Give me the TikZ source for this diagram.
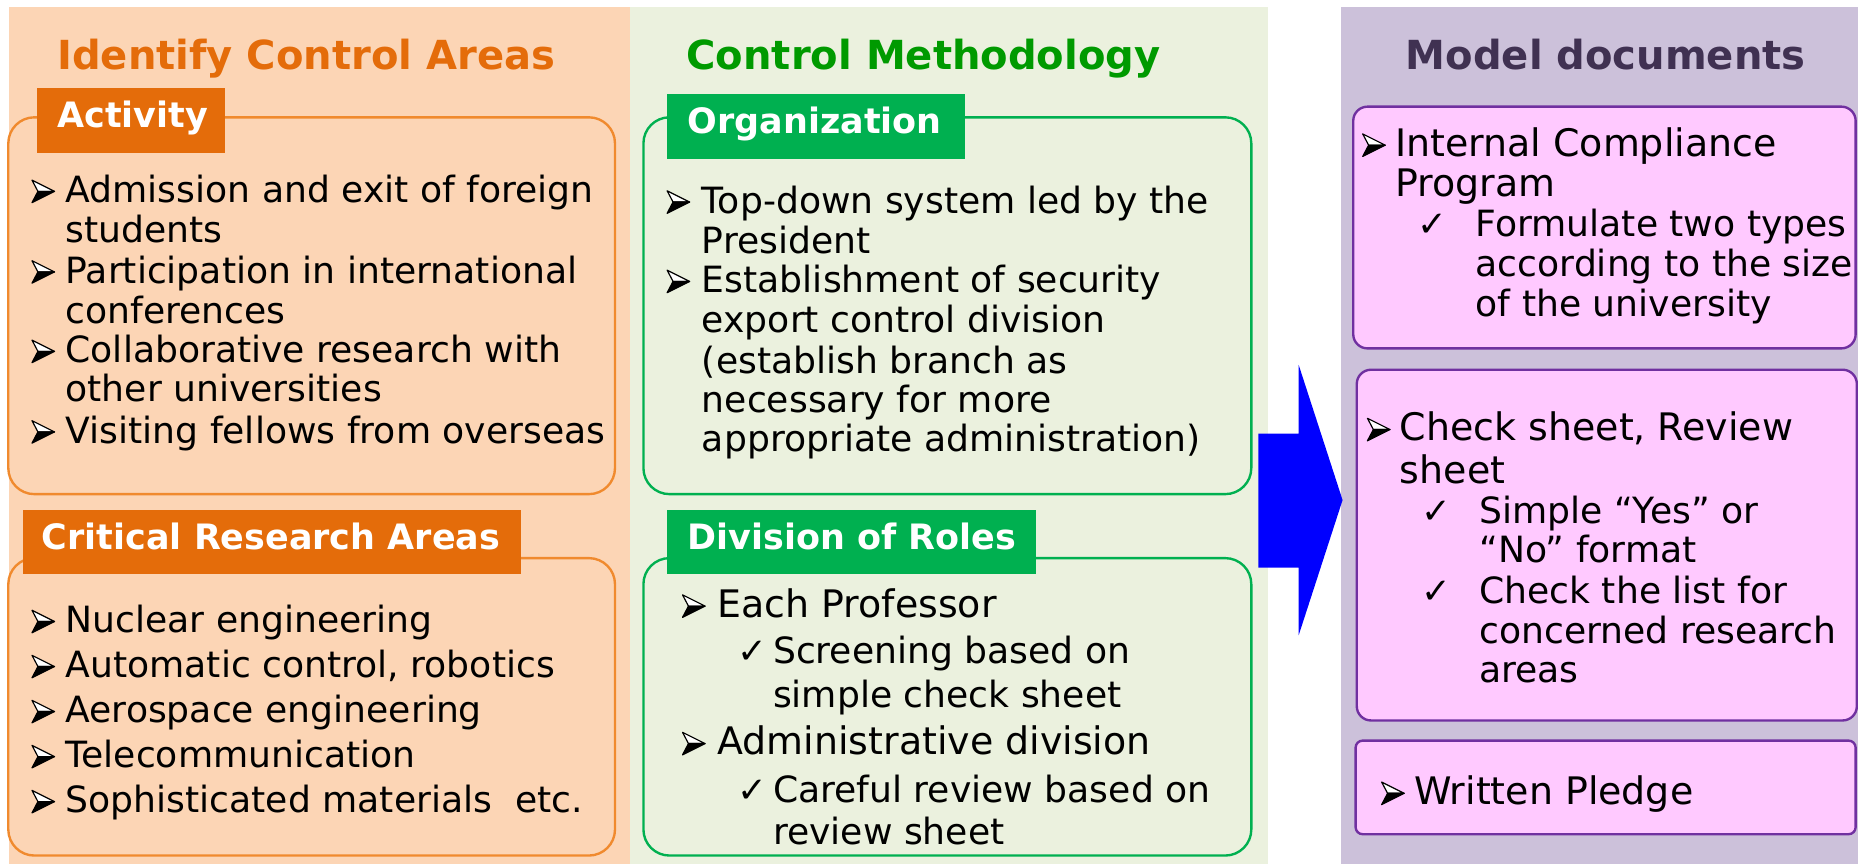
\documentclass[tikz,border=0pt]{standalone}
\usepackage{fontspec}
\setmainfont{DejaVu Sans}
\usepackage{tikz}

\definecolor{peach}{HTML}{FCD5B5}
\definecolor{sage}{HTML}{EBF1DE}
\definecolor{lilac}{HTML}{CCC1DA}
\definecolor{pinkfill}{HTML}{FFC9FF}
\definecolor{orangetab}{HTML}{E46C0A}
\definecolor{orangeline}{HTML}{F08A2E}
\definecolor{greentab}{HTML}{00B050}
\definecolor{greentitle}{HTML}{009A00}
\definecolor{plumline}{HTML}{7030A0}
\definecolor{plumtitle}{HTML}{403152}
\definecolor{arrowblue}{HTML}{0000FF}

\begin{document}
\begin{tikzpicture}[x=0.5pt,y=-0.5pt]
\tikzset{line/.style = {anchor=base west, inner sep=0pt, font=\fontsize{15.25}{17}\selectfont}}
\tikzset{bigline/.style = {line, font=\fontsize{16}{18}\selectfont}}
\tikzset{tickbul/.style = {line, font=\fontsize{15}{17}\selectfont}}
\tikzset{heading/.style = {anchor=base west, inner sep=0pt, font=\bfseries\fontsize{16.9}{20}\selectfont}}
\tikzset{tablabel/.style = {anchor=base west, inner sep=0pt, text=white, font=\bfseries\fontsize{14.75}{17}\selectfont}}
\tikzset{panelbox/.style = {line width=1pt, rounded corners=11pt}}
\tikzset{docbox/.style = {line width=1pt, draw=plumline, fill=pinkfill, rounded corners=6pt}}
% arrowhead bullet, origin at its left edge on the baseline
\tikzset{arrowbul/.pic = {
  \filldraw[fill=white, draw=black, line width=0.5pt, line join=round] (0,-19) -- (19,-9.5) -- (5,-9.5) -- cycle;
  \filldraw[fill=black, draw=black, line width=0.5pt, line join=round] (0,0) -- (19,-9.5) -- (5,-9.5) -- cycle;
}}

\useasboundingbox (0,0) rectangle (1568,729);

% background columns
\fill[peach] (8,6) rectangle (532,729);
\fill[sage] (532,6) rectangle (1070,729);
\fill[lilac] (1132,6) rectangle (1568,729);

% column headings
\node[heading, text=orangetab] (hid) at (48,59) {Identify Control Areas};
\node[heading, text=greentitle] (hcm) at (579,59) {Control Methodology};
\node[heading, text=plumtitle] (hmd) at (1186,59) {Model documents};

% identify control areas
\draw[panelbox, draw=orangeline] (7,99) rectangle (519,417);
\fill[orangetab] (31,74) rectangle (190,129);
\node[tablabel] (tact) at (48,108) {Activity};
\foreach \y in {171,239,306,374} \pic (ba\y) at (27,\y) {arrowbul};
\node[line] (a1) at (55,171) {Admission and exit of foreign};
\node[line] (a1b) at (55,205) {students};
\node[line] (a2) at (55,239) {Participation in international};
\node[line] (a2b) at (55,273) {conferences};
\node[line] (a3) at (55,306) {Collaborative research with};
\node[line] (a3b) at (55,339) {other universities};
\node[line] (a4) at (55,374) {Visiting fellows from overseas};

\draw[panelbox, draw=orangeline] (7,471) rectangle (519,722);
\fill[orangetab] (19,430) rectangle (440,484);
\node[tablabel] (tcra) at (35,464) {Critical Research Areas};
\foreach \y in {534,572,610,648,686} \pic (bc\y) at (27,\y) {arrowbul};
\node[line] (c1) at (55,534) {Nuclear engineering};
\node[line] (c2) at (55,572) {Automatic control, robotics};
\node[line] (c3) at (55,610) {Aerospace engineering};
\node[line] (c4) at (55,648) {Telecommunication};
\node[line] (c5) at (55,686) {Sophisticated materials~ etc.};

% control methodology
\draw[panelbox, draw=greentab] (543,99) rectangle (1056,417);
\fill[greentab] (563,79) rectangle (814,134);
\node[tablabel] (torg) at (580,113) {Organization};
\foreach \y in {180,247} \pic (bo\y) at (563,\y) {arrowbul};
\node[line] (o1) at (592,180) {Top-down system led by the};
\node[line] (o1b) at (592,214) {President};
\node[line] (o2) at (592,247) {Establishment of security};
\node[line] (o2b) at (592,281) {export control division};
\node[line] (o2c) at (592,315) {(establish branch as};
\node[line] (o2d) at (592,348) {necessary for more};
\node[line] (o2e) at (592,381) {appropriate administration)};

\draw[panelbox, draw=greentab] (543,471) rectangle (1056,722);
\fill[greentab] (563,430) rectangle (874,484);
\node[tablabel] (trol) at (580,464) {Division of Roles};
\foreach \y in {521,637} \pic (br\y) at (576,\y) {arrowbul};
\foreach \y in {560,677} \node[tickbul] (tr\y) at (622,\y) {✓};
\node[bigline] (r1) at (605,521) {Each Professor};
\node[line] (r1a) at (652,560) {Screening based on};
\node[line] (r1b) at (652,597) {simple check sheet};
\node[bigline] (r2) at (605,637) {Administrative division};
\node[line] (r2a) at (652,677) {Careful review based on};
\node[line] (r2b) at (652,713) {review sheet};

% arrow to the model documents
\fill[arrowblue] (1062,366) -- (1096,366) -- (1096,308) -- (1133,422)
  -- (1096,536) -- (1096,479) -- (1062,479) -- cycle;

% model documents
\draw[docbox] (1142,90) rectangle (1566,294);
\pic (bm1) at (1150,132) {arrowbul};
\node[bigline] (m1) at (1177,132) {Internal Compliance};
\node[bigline] (m1b) at (1177,166) {Program};
\node[tickbul] (tm1) at (1196,200) {✓};
\node[line] (m1c) at (1245,200) {Formulate two types};
\node[line] (m1d) at (1245,233) {according to the size};
\node[line] (m1e) at (1245,267) {of the university};

\draw[docbox] (1145,312) rectangle (1567,608);
\pic (bm2) at (1154,372) {arrowbul};
\node[bigline] (m2) at (1181,372) {Check sheet, Review};
\node[bigline] (m2b) at (1181,408) {sheet};
\foreach \y in {442,509} \node[tickbul] (tm\y) at (1199,\y) {✓};
\node[line] (m2c) at (1248,442) {Simple “Yes” or};
\node[line] (m2d) at (1248,475) {“No” format};
\node[line] (m2e) at (1248,509) {Check the list for};
\node[line] (m2f) at (1248,543) {concerned research};
\node[line] (m2g) at (1248,576) {areas};

\draw[docbox, rounded corners=3pt] (1144,625) rectangle (1566,704);
\pic (bm3) at (1166,679) {arrowbul};
\node[bigline] (m3) at (1193,679) {Written Pledge};

\end{tikzpicture}
\end{document}
